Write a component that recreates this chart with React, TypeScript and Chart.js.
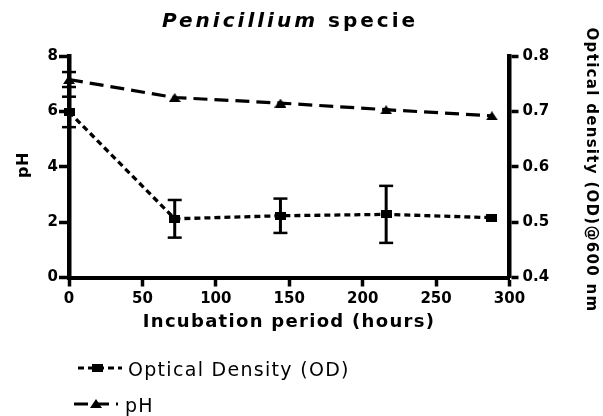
import React, { useEffect, useRef } from 'react';
import { Chart, registerables } from 'chart.js';

Chart.register(...registerables);

// ---- data ----
const titleItalicPart = 'Penicillium';
const titleRegularPart = ' specie';
const xAxisTitle = 'Incubation period (hours)';
const leftAxisTitle = 'pH';
const rightAxisTitle = 'Optical density (OD)@600 nm';

const times = [0, 72, 144, 216, 288];

const odLabel = 'Optical Density (OD)';
const odValues = [0.699, 0.506, 0.5115, 0.514, 0.508];
const odErrors = [0.0275, 0.034, 0.031, 0.0515, 0];

const phLabel = 'pH';
const phValues = [7.15, 6.5, 6.3, 6.06, 5.84];
const phErrors = [0.27, 0, 0, 0, 0];

const xTicks = [0, 50, 100, 150, 200, 250, 300];
const phTicks = [0, 2, 4, 6, 8];
const odTicks = [0.4, 0.5, 0.6, 0.7, 0.8];

// ---- helpers ----
const FONT = "'DejaVu Sans', 'Liberation Sans', sans-serif";

function makeSquare(): HTMLCanvasElement {
  const c = document.createElement('canvas');
  c.width = 11;
  c.height = 8;
  const g = c.getContext('2d')!;
  g.fillStyle = '#000';
  g.fillRect(0, 0, 11, 8);
  return c;
}

function makeTriangle(): HTMLCanvasElement {
  const c = document.createElement('canvas');
  c.width = 12;
  c.height = 9;
  const g = c.getContext('2d')!;
  g.fillStyle = '#000';
  g.beginPath();
  g.moveTo(6, 0);
  g.lineTo(12, 9);
  g.lineTo(0, 9);
  g.closePath();
  g.fill();
  return c;
}

function seg(ctx: CanvasRenderingContext2D, x1: number, y1: number, x2: number, y2: number) {
  ctx.beginPath();
  ctx.moveTo(x1, y1);
  ctx.lineTo(x2, y2);
  ctx.stroke();
}

export default function App() {
  const ref = useRef<HTMLCanvasElement | null>(null);

  useEffect(() => {
    const canvas = ref.current;
    if (!canvas) return;
    const square = makeSquare();
    const triangle = makeTriangle();

    const errorBars = {
      id: 'errorBars',
      beforeDatasetsDraw(chart: any) {
        const ctx: CanvasRenderingContext2D = chart.ctx;
        const xs = chart.scales.x;
        const sets = [
          { axis: 'y1', vals: odValues, errs: odErrors },
          { axis: 'y', vals: phValues, errs: phErrors },
        ];
        ctx.save();
        ctx.strokeStyle = '#000';
        ctx.setLineDash([]);
        sets.forEach((s) => {
          const ys = chart.scales[s.axis];
          times.forEach((t, i) => {
            const e = s.errs[i];
            if (!e) return;
            const px = xs.getPixelForValue(t);
            const top = ys.getPixelForValue(s.vals[i] + e);
            const bot = ys.getPixelForValue(s.vals[i] - e);
            ctx.lineWidth = 3;
            seg(ctx, px, top, px, bot);
            ctx.lineWidth = 2.5;
            seg(ctx, px - 7, top, px + 7, top);
            seg(ctx, px - 7, bot, px + 7, bot);
          });
        });
        ctx.restore();
      },
    };

    const texts = {
      id: 'texts',
      afterDraw(chart: any) {
        const ctx: any = chart.ctx;
        ctx.save();
        ctx.fillStyle = '#000';
        ctx.strokeStyle = '#000';
        ctx.textBaseline = 'alphabetic';

        // Title
        ctx.letterSpacing = '3px';
        ctx.font = `italic bold 20px ${FONT}`;
        const w1 = ctx.measureText(titleItalicPart).width;
        ctx.font = `bold 20px ${FONT}`;
        const w2 = ctx.measureText(titleRegularPart).width;
        const tx = 290 - (w1 + w2) / 2;
        ctx.textAlign = 'left';
        ctx.font = `italic bold 20px ${FONT}`;
        ctx.fillText(titleItalicPart, tx, 27);
        ctx.font = `bold 20px ${FONT}`;
        ctx.fillText(titleRegularPart, tx + w1, 27);

        // X axis title
        ctx.letterSpacing = '1.3px';
        ctx.font = `bold 18px ${FONT}`;
        ctx.textAlign = 'center';
        ctx.fillText(xAxisTitle, 289, 327);

        // Left axis title
        ctx.letterSpacing = '0.5px';
        ctx.font = `bold 16px ${FONT}`;
        ctx.save();
        ctx.translate(28, 165);
        ctx.rotate(-Math.PI / 2);
        ctx.textAlign = 'center';
        ctx.fillText(leftAxisTitle, 0, 0);
        ctx.restore();

        // Right axis title
        ctx.letterSpacing = '1.3px';
        ctx.font = `bold 15px ${FONT}`;
        ctx.save();
        ctx.translate(587, 170);
        ctx.rotate(Math.PI / 2);
        ctx.textAlign = 'center';
        ctx.fillText(rightAxisTitle, 0, 0);
        ctx.restore();

        // Legend
        ctx.letterSpacing = '0px';
        ctx.lineWidth = 3;
        ctx.setLineDash([6, 4]);
        seg(ctx, 78, 368, 122, 368);
        ctx.setLineDash([]);
        ctx.drawImage(square, 97.5 - 5.5, 368 - 4);
        ctx.setLineDash([14, 7]);
        seg(ctx, 74, 404, 118, 404);
        ctx.setLineDash([]);
        ctx.drawImage(triangle, 96 - 6, 404 - 5);

        ctx.letterSpacing = '1.3px';
        ctx.font = `19px ${FONT}`;
        ctx.textAlign = 'left';
        ctx.fillText(odLabel, 128, 376);
        ctx.fillText(phLabel, 125, 411.5);
        ctx.letterSpacing = '0px';
        ctx.restore();
      },
    };

    const tickFont = { family: FONT, size: 15, weight: 'bold' as const };

    const chart = new Chart(canvas, {
      type: 'line',
      data: {
        datasets: [
          {
            label: odLabel,
            data: times.map((t, i) => ({ x: t, y: odValues[i] })),
            yAxisID: 'y1',
            borderColor: '#000',
            backgroundColor: '#000',
            borderWidth: 3.3,
            borderDash: [6, 4],
            borderCapStyle: 'butt',
            pointStyle: square as any,
            pointRadius: 6,
            clip: false as any,
            tension: 0,
          },
          {
            label: phLabel,
            data: times.map((t, i) => ({ x: t, y: phValues[i] })),
            yAxisID: 'y',
            borderColor: '#000',
            backgroundColor: '#000',
            borderWidth: 3.2,
            borderDash: [14, 7],
            borderCapStyle: 'butt',
            pointStyle: triangle as any,
            pointRadius: 6,
            clip: false as any,
            tension: 0,
          },
        ],
      },
      options: {
        animation: false,
        responsive: false,
        maintainAspectRatio: false,
        layout: { padding: { top: 56, left: 0, right: 0, bottom: 0 } },
        plugins: {
          legend: { display: false },
          title: { display: false },
          tooltip: { enabled: false },
        },
        scales: {
          x: {
            type: 'linear',
            min: 0,
            max: 300,
            afterBuildTicks: (s: any) => {
              s.ticks = xTicks.map((v) => ({ value: v }));
            },
            afterFit: (s: any) => {
              s.height = 138.5;
            },
            ticks: { color: '#000', font: tickFont, padding: 4, maxRotation: 0 },
            grid: {
              display: true,
              drawOnChartArea: false,
              drawTicks: true,
              tickLength: 9,
              tickWidth: 3.5,
              tickColor: '#000',
            },
            border: { display: true, color: '#000', width: 4 },
          },
          y: {
            type: 'linear',
            position: 'left',
            min: 0,
            max: 8,
            afterBuildTicks: (s: any) => {
              s.ticks = phTicks.map((v) => ({ value: v }));
            },
            afterFit: (s: any) => {
              s.width = 69;
            },
            ticks: { color: '#000', font: tickFont, padding: 1 },
            grid: {
              display: true,
              drawOnChartArea: false,
              drawTicks: true,
              tickLength: 10,
              tickWidth: 3.5,
              tickColor: '#000',
            },
            border: { display: true, color: '#000', width: 4.5 },
          },
          y1: {
            type: 'linear',
            position: 'right',
            min: 0.4,
            max: 0.8,
            afterBuildTicks: (s: any) => {
              s.ticks = odTicks.map((v) => ({ value: v }));
            },
            afterFit: (s: any) => {
              s.width = 93.5;
            },
            ticks: {
              color: '#000',
              font: tickFont,
              padding: 4,
              callback: (v: any) => Number(v).toFixed(1),
            },
            grid: {
              display: true,
              drawOnChartArea: false,
              drawTicks: true,
              tickLength: 9,
              tickWidth: 3.5,
              tickColor: '#000',
            },
            border: { display: true, color: '#000', width: 4.5 },
          },
        },
      },
      plugins: [errorBars, texts],
    });

    return () => {
      chart.destroy();
    };
  }, []);

  return (
    <div style={{ position: 'absolute', left: 0, top: 0, width: 603, height: 416, background: '#fff' }}>
      <canvas ref={ref} width={603} height={416} style={{ width: 603, height: 416, display: 'block' }} />
    </div>
  );
}
